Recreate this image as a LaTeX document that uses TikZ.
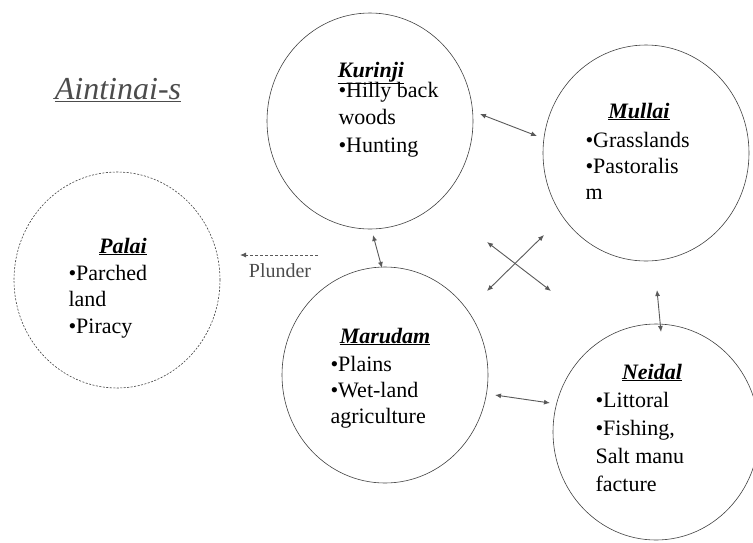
\documentclass[tikz,border=0pt]{standalone}
\usepackage{fontspec}
\setmainfont{Liberation Serif}
\usetikzlibrary{arrows.meta,shapes.geometric}

\begin{document}
\begin{tikzpicture}[x=1pt,y=-1pt,
		zone/.style={draw=black!75, line width=0.6pt, ellipse, minimum width=206pt, minimum height=216pt},
		head/.style={anchor=base, font=\fontsize{22}{26}\selectfont\bfseries\itshape},
		body/.style={anchor=base west, align=left, font=\fontsize{22}{27.5}\selectfont},
		link/.style={draw=black!65, line width=0.9pt, {Latex[length=6pt,width=5pt]}-{Latex[length=6pt,width=5pt]}}]
	
	\useasboundingbox (0,0) rectangle (753,542);
	
	% title
	\node[anchor=base, text=black!70, font=\fontsize{32}{38}\selectfont\itshape] (title) at (118,99) {\underline{Aintinai-s}};
	
	% the five tinai
	\node[zone] (kurinji) at (370,121) {};
	\node[zone] (mullai) at (646,153) {};
	\node[zone, dash pattern=on 2pt off 1.5pt] (palai) at (117,280) {};
	\node[zone] (marudam) at (385,375) {};
	\node[zone] (neidal) at (656,432) {};
	
	% labels inside the circles (body placed at its last baseline)
	\node[head] (kurinjiT) at (371,77) {\underline{Kurinji}};
	\node[body] (kurinjiB) at (335,152) {•Hilly back\\woods\\•Hunting};
	
	\node[head] (mullaiT) at (639,118) {\underline{Mullai}};
	\node[body, font=\fontsize{22}{26}\selectfont] (mullaiB) at (582,199) {•Grasslands\\•Pastoralis\\m};
	
	\node[head] (palaiT) at (123,253) {\underline{Palai}};
	\node[body, font=\fontsize{22}{26.5}\selectfont] (palaiB) at (65,333) {•Parched\\land\\•Piracy};
	
	\node[head] (marudamT) at (385,343) {\underline{Marudam}};
	\node[body, font=\fontsize{22}{26}\selectfont] (marudamB) at (327,423) {•Plains\\•Wet-land\\agriculture};
	
	\node[head] (neidalT) at (652,379) {\underline{Neidal}};
	\node[body, font=\fontsize{22}{28}\selectfont] (neidalB) at (592,491) {•Littoral\\•Fishing,\\Salt manu\\facture};
	
	% arrow ends
	\coordinate (km1) at (480,114); \coordinate (km2) at (537,136);
	\coordinate (kd1) at (373,235); \coordinate (kd2) at (382,268);
	\coordinate (mn1) at (657,290); \coordinate (mn2) at (661,332);
	\coordinate (dn1) at (495,395); \coordinate (dn2) at (550,403);
	\coordinate (xa1) at (487,242); \coordinate (xa2) at (551,291);
	\coordinate (xb1) at (487,291); \coordinate (xb2) at (544,235);
	\coordinate (pl1) at (318,255); \coordinate (pl2) at (240,255);
	
	% links between the tinai
	\draw[link] (km1) -- (km2);
	\draw[link] (kd1) -- (kd2);
	\draw[link] (mn1) -- (mn2);
	\draw[link] (dn1) -- (dn2);
	\draw[link] (xa1) -- (xa2);
	\draw[link] (xb1) -- (xb2);
	
	% plunder
	\draw[draw=black!65, line width=0.9pt, dash pattern=on 3pt off 2pt, -{Latex[length=6pt,width=5pt]}] (pl1) -- (pl2);
	\node[anchor=base, text=black!70, font=\fontsize{20}{24}\selectfont] (plunder) at (280,277) {Plunder};
	
\end{tikzpicture}
\end{document}
